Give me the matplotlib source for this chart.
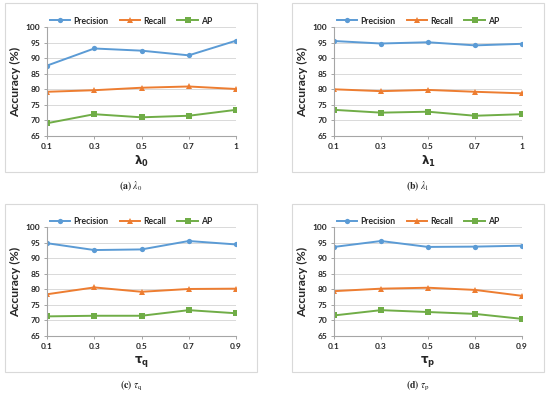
import matplotlib
matplotlib.use("Agg")
import matplotlib.pyplot as plt
from matplotlib.patches import Rectangle

plt.rcParams['font.family'] = ['Lato', 'DejaVu Sans']
plt.rcParams['mathtext.fontset'] = 'stix'

series_names = ["Precision", "Recall", "AP"]

x_a = ["0.1", "0.3", "0.5", "0.7", "1"]
prec_a = [87.6, 93.1, 92.4, 90.9, 95.6]
rec_a = [79.2, 79.7, 80.5, 80.9, 80.1]
ap_a = [69.1, 72.0, 71.0, 71.5, 73.4]

x_b = ["0.1", "0.3", "0.5", "0.7", "1"]
prec_b = [95.5, 94.7, 95.1, 94.1, 94.6]
rec_b = [80.0, 79.4, 79.8, 79.2, 78.7]
ap_b = [73.4, 72.5, 72.8, 71.5, 72.0]

x_c = ["0.1", "0.3", "0.5", "0.7", "0.9"]
prec_c = [94.8, 92.6, 92.8, 95.5, 94.4]
rec_c = [78.4, 80.6, 79.2, 80.1, 80.2]
ap_c = [71.3, 71.5, 71.5, 73.3, 72.3]

x_d = ["0.1", "0.3", "0.5", "0.8", "0.9"]
prec_d = [93.6, 95.5, 93.6, 93.7, 94.0]
rec_d = [79.4, 80.2, 80.5, 79.8, 77.9]
ap_d = [71.6, 73.3, 72.7, 72.1, 70.5]

xlabels = [r'$\mathbf{\lambda_0}$', r'$\mathbf{\lambda_1}$', r'$\mathbf{\tau_q}$', r'$\mathbf{\tau_p}$']
captions = [r'$\mathbf{(a)}\ \lambda_0$', r'$\mathbf{(b)}\ \lambda_1$',
            r'$\mathbf{(c)}\ \tau_\mathrm{q}$', r'$\mathbf{(d)}\ \tau_\mathrm{p}$']

colors = ["#5B9BD5", "#ED7D31", "#70AD47"]
markers = ["o", "^", "s"]

W, H = 550, 396
fig = plt.figure(figsize=(W / 100, H / 100), dpi=100)

panels = [
    (x_a, [prec_a, rec_a, ap_a]),
    (x_b, [prec_b, rec_b, ap_b]),
    (x_c, [prec_c, rec_c, ap_c]),
    (x_d, [prec_d, rec_d, ap_d]),
]

# pixel layout: (box_left, box_right, box_top, box_bottom, ax_left, ax_right, ax_top, ax_bottom)
layout = [
    (5, 257, 3, 172, 47, 236, 27, 136),
    (292, 544, 3, 172, 334, 522, 27, 136),
    (5, 257, 204, 372, 47, 236, 227, 336),
    (292, 544, 204, 372, 334, 522, 227, 336),
]
cap_y = [186, 186, 386, 386]

for i, ((xl, ys), lay) in enumerate(zip(panels, layout)):
    bl, br, bt, bb, al, ar, at, ab = lay
    fig.patches.append(Rectangle((bl / W, 1 - bb / H), (br - bl) / W, (bb - bt) / H,
                                 transform=fig.transFigure, fill=False,
                                 edgecolor="#D9D9D9", linewidth=0.8))
    ax = fig.add_axes([al / W, 1 - ab / H, (ar - al) / W, (ab - at) / H])
    xs = list(range(len(xl)))
    for name, y, c, m in zip(series_names, ys, colors, markers):
        ax.plot(xs, y, color=c, marker=m, markersize=3.8, linewidth=1.4, label=name,
                markeredgewidth=0)
    ax.set_xlim(0, len(xl) - 1)
    ax.set_ylim(65, 100)
    ax.set_yticks(range(65, 101, 5))
    ax.set_xticks(xs)
    ax.set_xticklabels(xl)
    ax.grid(axis='y', color="#D9D9D9", linewidth=0.7)
    ax.set_axisbelow(True)
    for s in ["top", "right"]:
        ax.spines[s].set_visible(False)
    for s in ["left", "bottom"]:
        ax.spines[s].set_color("#A6A6A6")
        ax.spines[s].set_linewidth(0.8)
    ax.tick_params(axis='both', length=2.5, width=0.7, color="#A6A6A6",
                   labelsize=6, labelcolor="#262626", pad=2.5)
    for lab in ax.get_xticklabels() + ax.get_yticklabels():
        lab.set_fontweight('bold')
    ax.set_ylabel("Accuracy (%)", fontsize=8.8, fontweight='bold', color="#262626", labelpad=3)
    xlab = ax.set_xlabel(xlabels[i], fontsize=8.5, color="#262626", labelpad=3)
    xlab.set_math_fontfamily('dejavusans')
    leg = ax.legend(loc='center', bbox_to_anchor=(((bl + br) / 2 - al) / (ar - al),
                                                  (ab - 18 - bt) / (ab - at)),
                    ncol=3, frameon=False, fontsize=6.2, handlelength=2.4,
                    columnspacing=1.3, handletextpad=0.35, borderaxespad=0)
    for t in leg.get_texts():
        t.set_fontweight('bold')
        t.set_color("#262626")
    fig.text((bl + br) / 2 / W, 1 - cap_y[i] / H, captions[i], ha='center', va='center',
             fontsize=7, color="#222222")

fig.savefig("out.png", dpi=100)
